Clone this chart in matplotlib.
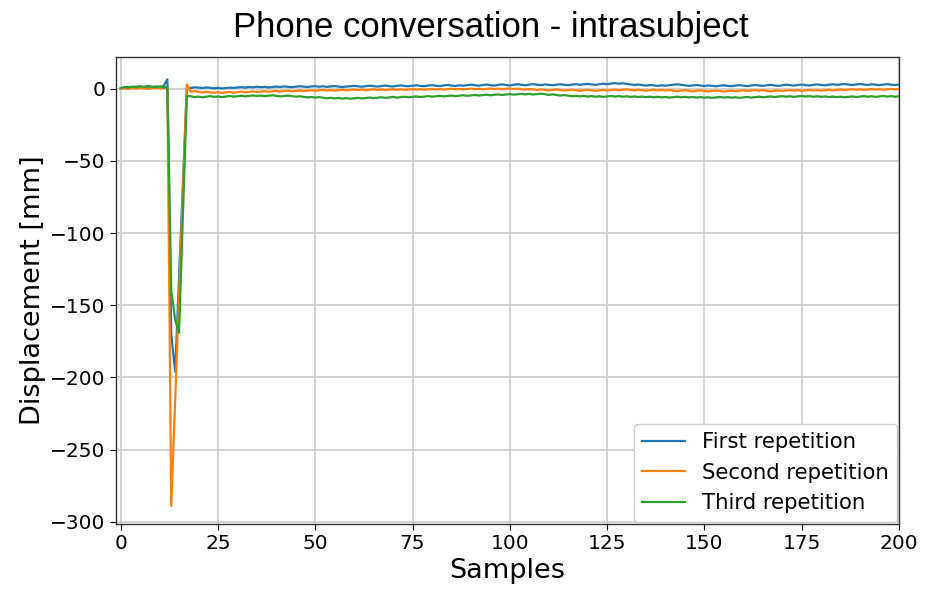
import matplotlib
matplotlib.use("Agg")
import matplotlib.pyplot as plt
import numpy as np

# Displacement traces (mm) for three repetitions, one value per sample (0..200)
first_repetition = [
    0.0, 0.8, 1.2, 1.0, 1.5, 1.3, 0.9, 1.4, 1.1, 1.6,
    1.2, 1.8, 6.5, -170, -196, -130, -65, 0.5, 0.6, 1.0,
    0.8, 0.5, 0.9, 0.7, 0.3, 0.6, 0.2, 0.5, 0.8, 0.6,
    0.9, 1.1, 0.8, 1.2, 1.0, 1.4, 1.1, 1.3, 0.9, 1.2,
    1.5, 1.2, 1.6, 1.3, 1.1, 1.4, 1.7, 1.5, 1.2, 1.6,
    1.8, 1.4, 1.7, 1.3, 1.6, 1.9, 1.5, 1.2, 1.5, 1.8,
    2.0, 1.7, 1.4, 1.8, 2.1, 1.8, 1.5, 1.9, 2.2, 1.8,
    1.6, 2.0, 2.3, 1.9, 1.7, 2.1, 2.4, 2.0, 1.8, 2.2,
    2.5, 2.1, 1.8, 2.3, 2.6, 2.2, 1.9, 2.4, 2.1, 2.5,
    2.8, 2.4, 2.1, 2.6, 2.9, 2.5, 2.2, 2.7, 3.0, 2.6,
    2.3, 2.8, 3.1, 2.7, 2.4, 2.9, 3.2, 2.8, 2.5, 3.0,
    2.7, 2.4, 2.8, 3.1, 2.7, 2.5, 2.9, 3.2, 2.8, 3.1,
    3.4, 3.0, 2.7, 3.1, 3.5, 3.2, 3.6, 3.9, 3.5, 3.8,
    3.4, 3.0, 2.6, 2.9, 2.5, 2.2, 2.6, 2.3, 2.0, 2.4,
    2.1, 2.5, 2.8, 3.1, 2.7, 2.4, 2.0, 2.3, 2.6, 2.2,
    1.9, 2.3, 2.0, 1.7, 2.1, 2.4, 2.0, 1.8, 2.2, 2.5,
    2.1, 1.8, 2.2, 2.6, 2.3, 2.0, 2.4, 2.7, 2.3, 2.0,
    2.4, 2.8, 2.5, 2.2, 2.6, 2.9, 2.5, 2.3, 2.7, 3.0,
    2.6, 2.4, 2.8, 3.1, 2.7, 3.0, 3.3, 2.9, 2.6, 3.0,
    3.3, 2.9, 2.7, 3.1, 2.8, 2.5, 2.9, 3.2, 2.8, 2.6,
    2.9,
]

second_repetition = [
    0.0, 0.3, -0.2, 0.5, 0.1, 0.6, 0.2, -0.1, 0.4, 0.7,
    0.3, 0.5, 1.0, -289, -216, -143, -70, 3.0, -2.0, -1.6,
    -2.2, -2.6, -2.1, -2.5, -2.8, -2.4, -2.9, -2.5, -2.2, -2.7,
    -2.4, -2.0, -2.5, -2.2, -1.8, -2.3, -2.0, -1.7, -2.1, -1.8,
    -1.5, -1.9, -1.6, -1.3, -1.8, -1.5, -1.2, -1.6, -1.3, -1.0,
    -1.4, -1.1, -0.8, -1.2, -0.9, -1.3, -1.0, -0.7, -1.1, -0.8,
    -0.5, -0.9, -0.6, -1.0, -0.7, -0.4, -0.8, -0.5, -0.9, -0.6,
    -0.3, -0.7, -0.4, -0.8, -0.5, -0.2, -0.6, -0.3, -0.7, -0.4,
    -0.1, -0.5, -0.2, -0.6, -0.3, 0.0, -0.4, -0.1, -0.5, -0.2,
    0.1, -0.3, 0.0, -0.4, -0.1, 0.2, -0.2, 0.1, -0.3, 0.0,
    0.2, -0.2, 0.1, -0.3, -0.6, -0.2, -0.5, -0.9, -0.5, -0.8,
    -1.2, -0.8, -0.5, -0.9, -1.3, -0.9, -0.6, -1.0, -1.4, -1.0,
    -0.7, -1.1, -1.5, -1.1, -0.8, -1.2, -0.9, -0.6, -1.0, -0.7,
    -0.4, -0.8, -1.1, -0.7, -1.0, -1.4, -1.0, -0.7, -1.1, -0.8,
    -1.2, -0.9, -1.3, -1.7, -1.3, -1.0, -1.4, -1.8, -1.4, -1.1,
    -1.5, -1.9, -1.5, -1.2, -1.6, -2.0, -1.6, -1.3, -1.7, -1.4,
    -1.1, -1.5, -1.2, -0.9, -1.3, -1.0, -1.4, -1.8, -1.4, -1.1,
    -1.5, -1.2, -0.9, -1.3, -1.0, -1.4, -1.1, -0.8, -1.2, -0.9,
    -1.3, -1.0, -0.7, -1.1, -0.8, -0.5, -0.9, -0.6, -0.3, -0.7,
    -0.4, -0.8, -0.5, -0.2, -0.6, -0.3, -0.7, -0.4, -0.1, -0.5,
    -0.2,
]

third_repetition = [
    0.5, 1.2, 0.8, 1.5, 1.0, 1.8, 1.3, 2.0, 1.4, 1.1,
    1.6, 1.0, 1.2, -140, -160, -169, -88, -5.0, -5.2, -5.8,
    -5.4, -5.9, -5.5, -5.1, -5.6, -5.3, -5.8, -5.4, -5.0, -5.5,
    -5.2, -4.8, -5.3, -4.9, -4.6, -5.0, -4.7, -5.1, -4.8, -4.5,
    -4.9, -5.3, -5.0, -4.7, -5.1, -5.5, -5.2, -5.6, -6.0, -5.7,
    -6.1, -5.8, -6.2, -6.6, -6.3, -6.7, -6.4, -6.8, -6.5, -6.9,
    -6.6, -6.3, -6.7, -6.4, -6.1, -6.5, -6.2, -5.9, -6.3, -6.0,
    -5.7, -6.1, -5.8, -5.5, -5.9, -5.6, -5.3, -5.7, -5.4, -5.1,
    -5.5, -5.2, -4.9, -5.3, -5.0, -4.7, -5.1, -4.8, -4.5, -4.9,
    -4.6, -4.3, -4.7, -4.4, -4.1, -4.5, -4.2, -3.9, -4.3, -4.0,
    -3.7, -4.1, -3.8, -3.5, -3.9, -3.6, -4.0, -3.7, -3.4, -3.8,
    -4.2, -3.9, -4.3, -4.7, -4.4, -4.8, -5.2, -4.9, -5.3, -5.0,
    -5.4, -5.1, -5.5, -5.2, -5.6, -5.3, -5.0, -5.4, -5.1, -5.5,
    -5.2, -5.6, -5.3, -5.7, -5.4, -5.8, -5.5, -5.9, -5.6, -6.0,
    -5.7, -6.1, -5.8, -5.5, -5.9, -5.6, -6.0, -5.7, -6.1, -5.8,
    -6.2, -5.9, -6.3, -6.0, -5.7, -6.1, -5.8, -6.2, -5.9, -6.3,
    -6.0, -5.7, -6.1, -5.8, -5.5, -5.9, -5.6, -5.3, -5.7, -5.4,
    -5.1, -5.5, -5.2, -5.6, -5.3, -5.0, -5.4, -5.1, -5.5, -5.2,
    -5.6, -5.3, -5.7, -5.4, -5.8, -5.5, -5.9, -5.6, -5.3, -5.7,
    -5.4, -5.1, -5.5, -5.2, -5.6, -5.3, -5.0, -5.4, -5.1, -5.5,
    -5.2,
]

series_labels = ["First repetition", "Second repetition", "Third repetition"]
x_ticks = [0, 25, 50, 75, 100, 125, 150, 175, 200]
y_ticks = [0, -50, -100, -150, -200, -250, -300]

plt.rcParams["font.family"] = ["DejaVu Sans"]

fig = plt.figure(figsize=(9.26, 5.97), dpi=100)
ax = fig.add_axes([116 / 926, 1 - 524 / 597, 783 / 926, 467 / 597])

colors = ["#1f77b4", "#ff7f0e", "#2ca02c"]
for values, label, color in zip(
    [first_repetition, second_repetition, third_repetition], series_labels, colors
):
    samples = np.arange(len(values))
    ax.plot(samples, values, color=color, lw=1.6, label=label)

ax.set_xlim(-1.2, 200)
ax.set_ylim(-301.5, 22)
ax.set_xticks(x_ticks)
ax.set_yticks(y_ticks)
ax.tick_params(labelsize=14.5, length=4)
ax.grid(True, color="#c8c8c8", lw=1.1)
ax.set_axisbelow(True)
for s in ax.spines.values():
    s.set_color("#333333")
    s.set_linewidth(1.0)

ax.set_xlabel("Samples", fontsize=19.5, labelpad=3)
ax.set_ylabel("Displacement [mm]", fontsize=19.5, labelpad=3)

fig.text(491 / 926, 1 - 28 / 597, "Phone conversation - intrasubject",
         ha="center", va="center", fontsize=25,
         family=["Liberation Sans Narrow", "Liberation Sans", "DejaVu Sans"])

ax.legend(loc="lower right", fontsize=15.3, frameon=True, framealpha=1.0,
          edgecolor="#cccccc", fancybox=True, handlelength=2.0,
          borderaxespad=0.1)

fig.savefig("out.png", dpi=100)
